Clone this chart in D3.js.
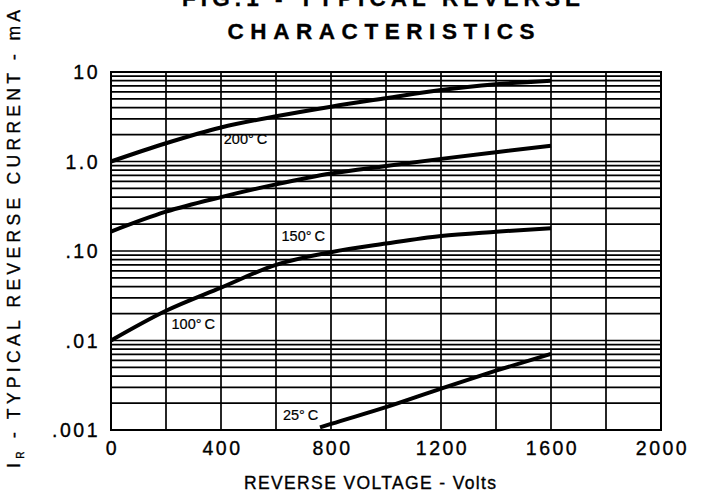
<!DOCTYPE html>
<html>
<head>
<meta charset="utf-8">
<script src="https://cdn.jsdelivr.net/npm/d3@7"></script>
<style>
  body { margin: 0; background: #fff; }
  text { font-family: "Liberation Sans", Arial, sans-serif; fill: #000; stroke: #000; stroke-width: 0.35px; }
</style>
</head>
<body>
<div id="chart"></div>
<script>
// reverse voltage (V) where the curves were read
var voltage = [0, 200, 400, 600, 800, 1000, 1200, 1400, 1600];
// typical reverse current (mA) per junction temperature
var cur200 = [1.0, 1.6, 2.4, 3.2, 4.1, 5.1, 6.3, 7.3, 8.0];
var cur150 = [0.165, 0.275, 0.40, 0.555, 0.735, 0.89, 1.07, 1.27, 1.5];
var cur100 = [0.010, 0.0215, 0.039, 0.070, 0.097, 0.121, 0.147, 0.164, 0.18];
var volt25 = [760, 800, 1000, 1200, 1400, 1600];
var cur25 = [0.00107, 0.00117, 0.0018, 0.0029, 0.0046, 0.0071];

var xTicks = [0, 400, 800, 1200, 1600, 2000];
var xTickLabels = ['0', '400', '800', '1200', '1600', '2000'];
var yTicks = [10, 1, 0.1, 0.01, 0.001];
var yTickLabels = ['10', '1.0', '.10', '.01', '.001'];

var curveLabels = [
  { t: '200', v: 410, i: 1.55 },
  { t: '150', v: 620, i: 0.13 },
  { t: '100', v: 220, i: 0.0135 },
  { t: '25',  v: 625, i: 0.00128 }
];

var width = 706, height = 495;
var pLeft = 111, pRight = 661, pTop = 72, pBottom = 430;

var svg = d3.select('#chart').append('svg')
  .attr('width', width)
  .attr('height', height);

var x = d3.scaleLinear().domain([0, 2000]).range([pLeft, pRight]);
var y = d3.scaleLog().domain([0.001, 10]).range([pBottom, pTop]);

// log grid: every 1..9 of each decade
var minor = [];
[0.001, 0.01, 0.1, 1].forEach(function(d) {
  for (var k = 1; k < 10; k++) minor.push(d * k);
});
minor.push(10);

svg.append('g').selectAll('line')
  .data(minor)
  .enter().append('line')
    .attr('x1', pLeft)
    .attr('x2', pRight)
    .attr('y1', function(d) { return y(d); })
    .attr('y2', function(d) { return y(d); })
    .style('stroke', '#000')
    .style('stroke-width', 1.7);

svg.append('g').selectAll('line')
  .data(d3.range(0, 2001, 200))
  .enter().append('line')
    .attr('x1', function(d) { return x(d); })
    .attr('x2', function(d) { return x(d); })
    .attr('y1', pTop)
    .attr('y2', pBottom)
    .style('stroke', '#000')
    .style('stroke-width', 1.7);

svg.append('rect')
  .attr('x', pLeft)
  .attr('y', pTop)
  .attr('width', pRight - pLeft)
  .attr('height', pBottom - pTop)
  .style('fill', 'none')
  .style('stroke', '#000')
  .style('stroke-width', 2);

// curves
var line = d3.line()
  .x(function(d) { return x(d[0]); })
  .y(function(d) { return y(d[1]); })
  .curve(d3.curveMonotoneX);

[[voltage, cur200], [voltage, cur150], [voltage, cur100], [volt25, cur25]].forEach(function(s) {
  svg.append('path')
    .datum(d3.zip(s[0], s[1]))
    .attr('d', line)
    .style('fill', 'none')
    .style('stroke', '#000')
    .style('stroke-width', 4);
});

curveLabels.forEach(function(c) {
  var t = svg.append('text')
    .attr('x', x(c.v))
    .attr('y', y(c.i))
    .style('font-size', '14.5px')
    .style('stroke-width', '0.2px');
  t.append('tspan').text(c.t + '°');
  t.append('tspan').attr('dx', 3).text('C');
});

// tick labels
svg.append('g').selectAll('text')
  .data(xTicks)
  .enter().append('text')
    .attr('x', function(d) { return x(d) + 1.5; })
    .attr('y', 455)
    .attr('text-anchor', 'middle')
    .style('font-size', '19.5px')
    .style('letter-spacing', '2.5px')
    .text(function(d, i) { return xTickLabels[i]; });

svg.append('g').selectAll('text')
  .data(yTicks)
  .enter().append('text')
    .attr('x', 100)
    .attr('y', function(d) { return y(d); })
    .attr('dy', '0.36em')
    .attr('text-anchor', 'end')
    .style('font-size', '19.5px')
    .style('letter-spacing', '2.5px')
    .text(function(d, i) { return yTickLabels[i]; });

// titles
svg.append('text')
  .attr('x', 381)
  .attr('y', 6)
  .attr('text-anchor', 'middle')
  .attr('textLength', 398)
  .attr('lengthAdjust', 'spacing')
  .style('font-size', '22.5px')
  .style('font-weight', 'bold')
  .text('FIG.1 - TYPICAL REVERSE');

svg.append('text')
  .attr('x', 381)
  .attr('y', 39)
  .attr('text-anchor', 'middle')
  .attr('textLength', 307)
  .attr('lengthAdjust', 'spacing')
  .style('font-size', '22.5px')
  .style('font-weight', 'bold')
  .text('CHARACTERISTICS');

svg.append('text')
  .attr('x', 370)
  .attr('y', 489)
  .attr('text-anchor', 'middle')
  .attr('textLength', 252)
  .attr('lengthAdjust', 'spacing')
  .style('font-size', '17.5px')
  .text('REVERSE VOLTAGE - Volts');

var yl = svg.append('text')
  .attr('transform', 'translate(20,239) rotate(-90)')
  .attr('text-anchor', 'middle')
  .attr('textLength', 458)
  .attr('lengthAdjust', 'spacing')
  .style('font-size', '17.5px');
yl.append('tspan').text('I');
yl.append('tspan').attr('dy', 4).style('font-size', '10px').text('R');
yl.append('tspan').attr('dy', -4).text(' - TYPICAL REVERSE CURRENT - mA');
</script>
</body>
</html>
